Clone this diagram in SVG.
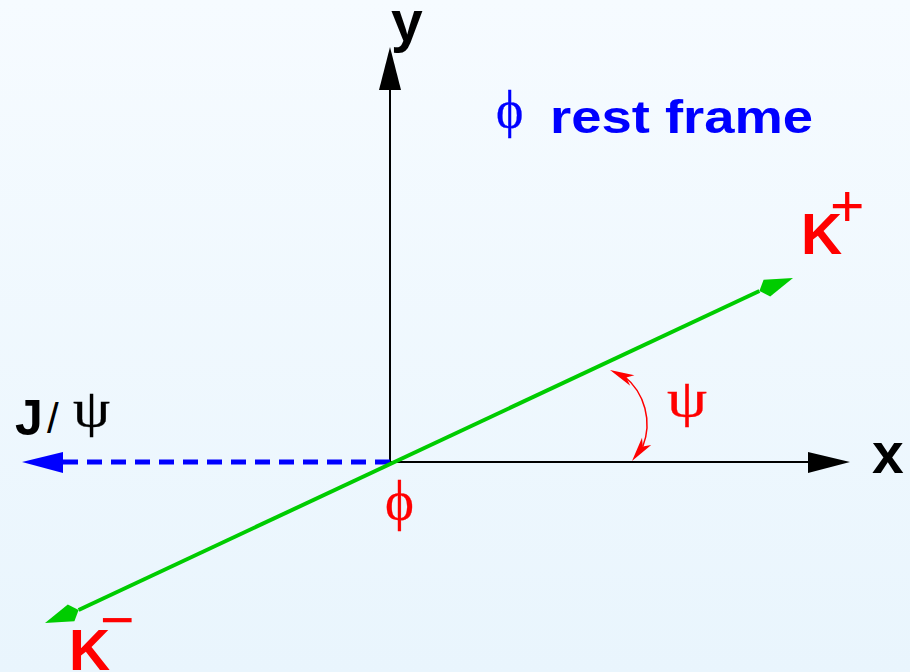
<svg xmlns="http://www.w3.org/2000/svg" width="910" height="672" viewBox="0 0 910 672">
<defs>
<linearGradient id="bg" x1="0" y1="0" x2="0" y2="1">
<stop offset="0" stop-color="#f6fbff"/>
<stop offset="1" stop-color="#e9f5fd"/>
</linearGradient>
</defs>
<style>
.sans{font-family:"Liberation Sans",Arial,sans-serif;font-weight:bold}
.reg{font-family:"Liberation Sans",Arial,sans-serif;font-weight:normal}
.greek{font-family:"Liberation Serif","DejaVu Serif",serif;font-weight:normal;stroke-width:0.3}
.red{fill:#ff0000;stroke:#ff0000}
.blue{fill:#0000ff;stroke:#0000ff}
.blk{fill:#000000;stroke:#000000}
.sans,.reg{stroke:none}
</style>
<rect x="0" y="0" width="910" height="672" fill="url(#bg)"/>
<g id="connectors">
<g id="y-axis">
<line x1="390" y1="462" x2="390" y2="86" stroke="#000" stroke-width="2"/>
<polygon points="390,47 379,90 401,90" fill="#000"/>
</g>
<g id="x-axis">
<line x1="390" y1="462" x2="812" y2="462" stroke="#000" stroke-width="2"/>
<polygon points="850,462 808,452 808,473" fill="#000"/>
</g>
<g id="jpsi-dir">
<line x1="390" y1="462" x2="62" y2="462" stroke="#0000ff" stroke-width="5" stroke-dasharray="15 9"/>
<polygon points="22,462 63,452 63,473" fill="#0000ff"/>
</g>
<g id="kaon-line">
<line x1="78.6" y1="610" x2="759.4" y2="291" stroke="#00cc00" stroke-width="4"/>
<polygon points="793,278 763.6,279.7 759.4,291 770.2,296.5" fill="#00cc00"/>
<polygon points="45,623 67.8,604.5 78.6,610 74.4,621.3" fill="#00cc00"/>
</g>
<g id="psi-arc">
<path d="M624,376 A62,62 0 0 1 642.8,446.6" fill="none" stroke="#ff0000" stroke-width="1.5"/>
<polygon points="610,370 634.4,375.3 626.3,377.5 630.2,385.7" fill="#ff0000"/>
<polygon points="632,461 642.0,437.8 642.8,446.6 651.2,445.0" fill="#ff0000"/>
</g>
</g>
<g id="label-y"><text class="sans blk" x="391" y="41" font-size="57">y</text></g>
<g id="label-x"><text class="sans blk" x="872" y="473" font-size="57">x</text></g>
<g id="label-title">
<text class="greek blue" x="496" y="127" font-size="52">ϕ</text>
<text class="sans blue" x="550" y="133" font-size="46" textLength="263" lengthAdjust="spacingAndGlyphs">rest frame</text>
</g>
<g id="label-kplus">
<text class="sans red" x="801" y="254" font-size="57">K</text>
<text class="reg red" x="830" y="226" font-size="59">+</text>
</g>
<g id="label-kminus">
<text class="sans red" x="69" y="670" font-size="57">K</text>
<text class="reg red" x="100" y="640" font-size="59">−</text>
</g>
<g id="label-jpsi">
<text class="sans blk" x="15" y="435" font-size="50">J</text>
<text class="reg blk" x="47" y="433" font-size="42">/</text>
<text class="greek blk" x="73" y="426" font-size="52" textLength="37" lengthAdjust="spacingAndGlyphs">ψ</text>
</g>
<g id="label-psi"><text class="greek red" x="667" y="416" font-size="52" textLength="40" lengthAdjust="spacingAndGlyphs">ψ</text></g>
<g id="label-phi"><text class="greek red" x="385" y="519" font-size="55">ϕ</text></g>
</svg>
